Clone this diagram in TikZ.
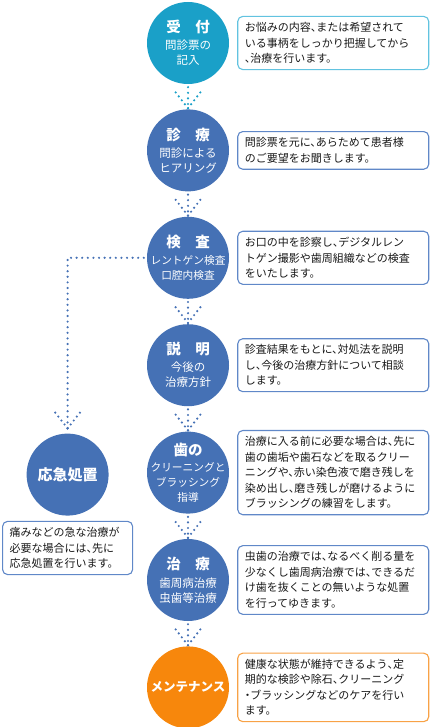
\documentclass[tikz,border=0pt]{standalone}
\usepackage{fontspec}
\setmainfont[RawFeature={+halt}]{Noto Sans CJK JP}
\usetikzlibrary{positioning,calc}
\definecolor{tealc}{HTML}{1AA0C8}
\definecolor{bluec}{HTML}{4571B5}
\definecolor{orangec}{HTML}{F7870C}
\definecolor{tealline}{HTML}{62C3E0}
\definecolor{blueline}{HTML}{6088C8}
\definecolor{orangeline}{HTML}{F8A246}
\newcommand\ttl{\fontsize{14.5}{17}\selectfont\bfseries}
\newcommand\nar{\fontsize{10.7}{15}\selectfont}
% dotted V head, apex given as a coordinate
\newcommand\dotvee[2]{%
  \draw[dotarm, #2] (#1) -- ($(#1)+(-12.5,-16)$);
  \draw[dotarm, #2] (#1) -- ($(#1)+(12.5,-16)$);
}

\begin{document}
\begin{tikzpicture}[x=1pt, y=-1pt, node distance=8pt, circ/.style={circle, fill=bluec, minimum size=82pt, inner sep=0pt}, ctext/.style={text=white, align=center, font=\fontsize{11.5}{15}\selectfont}, desc/.style={draw=blueline, line width=1.1pt, rounded corners=5pt, fill=white, align=left, text width=177pt, inner xsep=7pt, inner ysep=6pt, font=\fontsize{11}{15.5}\selectfont, text=black!90}, dotline/.style={line width=2.4pt, line cap=round, dash pattern=on 0pt off 5.6pt}, dotarm/.style={line width=2.4pt, line cap=round, dash pattern=on 0pt off 5pt}]
\useasboundingbox (0,0) rectangle (430,727);
\node[circ, fill=tealc] (c1) at (188,43) {};
\node[circ, below=25pt of c1] (c2) {};
\node[circ, below=25pt of c2] (c3) {};
\node[circ, below=25pt of c3] (c4) {};
\node[circ, below=25pt of c4] (c5) {};
\node[circ, below=25pt of c5] (c6) {};
\node[circ, fill=orangec, below=25pt of c6] (c7) {};
\node[circ, left=38pt of c5, yshift=-2pt] (em) {};
\node[ctext] (c1t) at (c1) {{\ttl 受　付}\\[2pt]問診票の\\記入};
\node[ctext] (c2t) at (c2) {{\ttl 診　療}\\[2pt]問診による\\ヒアリング};
\node[ctext, font=\nar] (c3t) at (c3) {{\ttl 検　査}\\[2pt]レントゲン検査\\口腔内検査};
\node[ctext] (c4t) at (c4) {{\ttl 説　明}\\[2pt]今後の\\治療方針};
\node[ctext, font=\nar] (c5t) at (c5) {{\ttl 歯の}\\[1pt]クリーニングと\\ブラッシング\\指導};
\node[ctext] (c6t) at (c6) {{\ttl 治　療}\\[3pt]歯周病治療\\虫歯等治療};
\node[ctext, font=\fontsize{12.5}{15}\selectfont\bfseries] (c7t) at (c7) {メンテナンス};
\node[ctext, font=\fontsize{15}{17}\selectfont\bfseries] (emt) at (em) {応急処置};
\node[desc, draw=tealline, right=of c1] (d1) {お悩みの内容、または希望されて\\いる事柄をしっかり把握してから\\、治療を行います。};
\node[desc, right=of c2] (d2) {問診票を元に、あらためて患者様\\のご要望をお聞きします。};
\node[desc, right=of c3] (d3) {お口の中を診察し、デジタルレン\\トゲン撮影や歯周組織などの検査\\をいたします。};
\node[desc, right=of c4] (d4) {診査結果をもとに、対処法を説明\\し、今後の治療方針について相談\\します。};
\node[desc, right=of c5] (d5) {治療に入る前に必要な場合は、先に\\歯の歯垢や歯石などを取るクリー\\ニングや、赤い染色液で磨き残しを\\染め出し、磨き残しが磨けるように\\ブラッシングの練習をします。};
\node[desc, right=of c6] (d6) {虫歯の治療では、なるべく削る量を\\少なくし歯周病治療では、できるだ\\け歯を抜くことの無いような処置\\を行ってゆきます。};
\node[desc, draw=orangeline, right=of c7] (d7) {健康な状態が維持できるよう、定\\期的な検診や除石、クリーニング\\・ブラッシングなどのケアを行い\\ます。};
\node[desc, text width=116pt, below=5pt of em] (emd) {痛みなどの急な治療が\\必要な場合には、先に\\応急処置を行います。};
% dotted connectors
\coordinate (v2) at ([yshift=1pt]c2.north); \coordinate (v3) at ([yshift=1pt]c3.north); \coordinate (v4) at ([yshift=1pt]c4.north); \coordinate (v5) at ([yshift=1pt]c5.north); \coordinate (v6) at ([yshift=1pt]c6.north); \coordinate (v7) at ([yshift=1pt]c7.north); \coordinate (ve) at ([yshift=5pt]em.north);
\draw[dotline, tealc, shorten <=3pt] (c1) -- (c2); \dotvee{v2}{tealc}
\draw[dotline, bluec, shorten <=3pt] (c2) -- (c3); \dotvee{v3}{bluec}
\draw[dotline, bluec, shorten <=3pt] (c3) -- (c4); \dotvee{v4}{bluec}
\draw[dotline, bluec, shorten <=3pt] (c4) -- (c5); \dotvee{v5}{bluec}
\draw[dotline, bluec, shorten <=3pt] (c5) -- (c6); \dotvee{v6}{bluec}
\draw[dotline, bluec, shorten <=3pt] (c6) -- (c7); \dotvee{v7}{bluec}
\draw[dotline, bluec, shorten <=3pt, shorten >=5pt] (c3) -| (em); \dotvee{ve}{bluec}
\end{tikzpicture}
\end{document}
